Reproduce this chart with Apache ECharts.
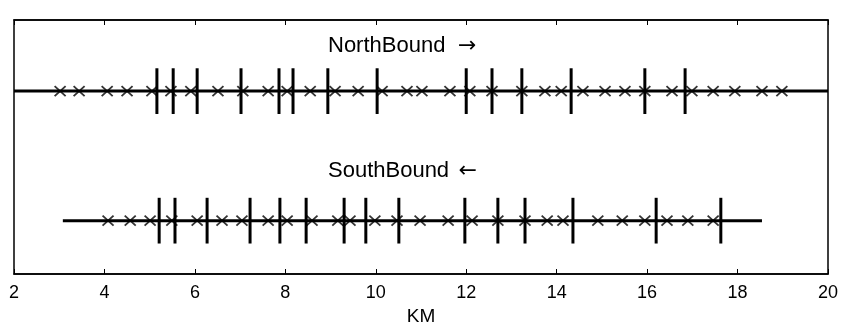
<!DOCTYPE html>
<html>
<head>
<meta charset="utf-8">
<script src="https://cdn.jsdelivr.net/npm/echarts@6/dist/echarts.min.js"></script>
<style>
  html, body { margin: 0; padding: 0; background: #fff; }
  #chart { width: 844px; height: 322px; }
</style>
</head>
<body>
<div id="chart"></div>
<script>
// km positions
const xTicks = [2, 4, 6, 8, 10, 12, 14, 16, 18, 20];

const northRange = [2, 20];
const northCrosses = [3.02, 3.44, 4.06, 4.50, 5.05, 5.47, 5.91, 6.51, 7.06, 7.62, 8.04, 8.55,
  9.10, 9.61, 10.14, 10.69, 11.02, 11.64, 12.08, 12.57, 13.23, 13.74, 14.10, 14.58, 15.07,
  15.51, 15.95, 16.55, 16.99, 17.46, 17.94, 18.54, 18.98];
const northBars = [5.16, 5.52, 6.05, 7.02, 7.86, 8.17, 8.94, 10.03, 12.0, 12.57, 13.23,
  14.32, 15.95, 16.84];

const southRange = [3.08, 18.54];
const southCrosses = [4.08, 4.57, 5.01, 5.49, 6.05, 6.60, 7.04, 7.62, 8.04, 8.59, 9.16, 9.43,
  9.98, 10.47, 10.98, 11.60, 12.13, 12.70, 13.30, 13.79, 14.14, 14.91, 15.45, 15.95, 16.44,
  16.90, 17.46];
const southBars = [5.21, 5.56, 6.27, 7.22, 7.88, 8.46, 9.30, 9.78, 10.51, 11.97, 12.70, 13.30,
  14.36, 16.20, 17.63];

const northY = 0.72;
const southY = 0.21;
const barHalf = 0.09;

const FONT = 'Liberation Sans, Arial, sans-serif';
const chart = echarts.init(document.getElementById('chart'), null, { renderer: 'canvas' });

const crossSymbol = 'path://M0,0L10,10M10,0L0,10';

function trackLine(range, y) {
  return {
    type: 'line', data: range.map(x => [x, y]), symbol: 'none', silent: true,
    lineStyle: { color: '#000', width: 3 }, z: 2, animation: false
  };
}
function crosses(xs, y) {
  return {
    type: 'scatter', data: xs.map(x => [x, y]), symbol: crossSymbol, symbolSize: [11, 10],
    itemStyle: { color: 'none', borderColor: '#000', borderWidth: 1.7 }, z: 3, animation: false
  };
}
function bars(xs, y) {
  return {
    type: 'custom', data: xs.map(x => [x, y]), z: 4, animation: false,
    renderItem: (params, api) => {
      const top = api.coord([api.value(0), api.value(1) + barHalf]);
      const bot = api.coord([api.value(0), api.value(1) - barHalf]);
      return {
        type: 'line',
        shape: { x1: top[0], y1: top[1], x2: bot[0], y2: bot[1] },
        style: { stroke: '#000', lineWidth: 3 }
      };
    }
  };
}

const axisBase = {
  type: 'value', min: 2, max: 20, interval: 2,
  axisLine: { show: true, lineStyle: { color: '#000', width: 1.5 } },
  axisTick: { show: true, inside: true, length: 5, lineStyle: { color: '#000', width: 1 } },
  splitLine: { show: false }
};

const titleRich = {
  a: { fontFamily: FONT, fontSize: 22, color: '#000' },
  arr: { fontFamily: 'DejaVu Sans', fontSize: 22, color: '#000', padding: [0, 0, 0, 6] }
};

chart.setOption({
  backgroundColor: '#fff',
  grid: {
    left: 14, right: 16, top: 20, bottom: 48, show: true,
    borderColor: '#000', borderWidth: 1.5, outerBoundsMode: 'none', containLabel: false
  },
  xAxis: [
    Object.assign({}, axisBase, {
      position: 'bottom',
      axisLabel: { color: '#000', fontFamily: FONT, fontSize: 18, margin: 10 },
      name: 'KM', nameLocation: 'middle', nameGap: 27,
      nameTextStyle: { color: '#000', fontFamily: FONT, fontSize: 19 }
    }),
    Object.assign({}, axisBase, { position: 'top', axisLabel: { show: false } })
  ],
  yAxis: {
    type: 'value', min: 0, max: 1, show: true,
    axisLine: { show: false }, axisTick: { show: false }, axisLabel: { show: false },
    splitLine: { show: false }
  },
  graphic: [
    { type: 'text', x: 328, y: 46, style: { text: '{a|NorthBound}  {arr|\u2192}', rich: titleRich, verticalAlign: 'middle' } },
    { type: 'text', x: 328, y: 171, style: { text: '{a|SouthBound} {arr|\u2190}', rich: titleRich, verticalAlign: 'middle' } }
  ],
  series: [
    trackLine(northRange, northY), crosses(northCrosses, northY), bars(northBars, northY),
    trackLine(southRange, southY), crosses(southCrosses, southY), bars(southBars, southY)
  ]
});
</script>
</body>
</html>
